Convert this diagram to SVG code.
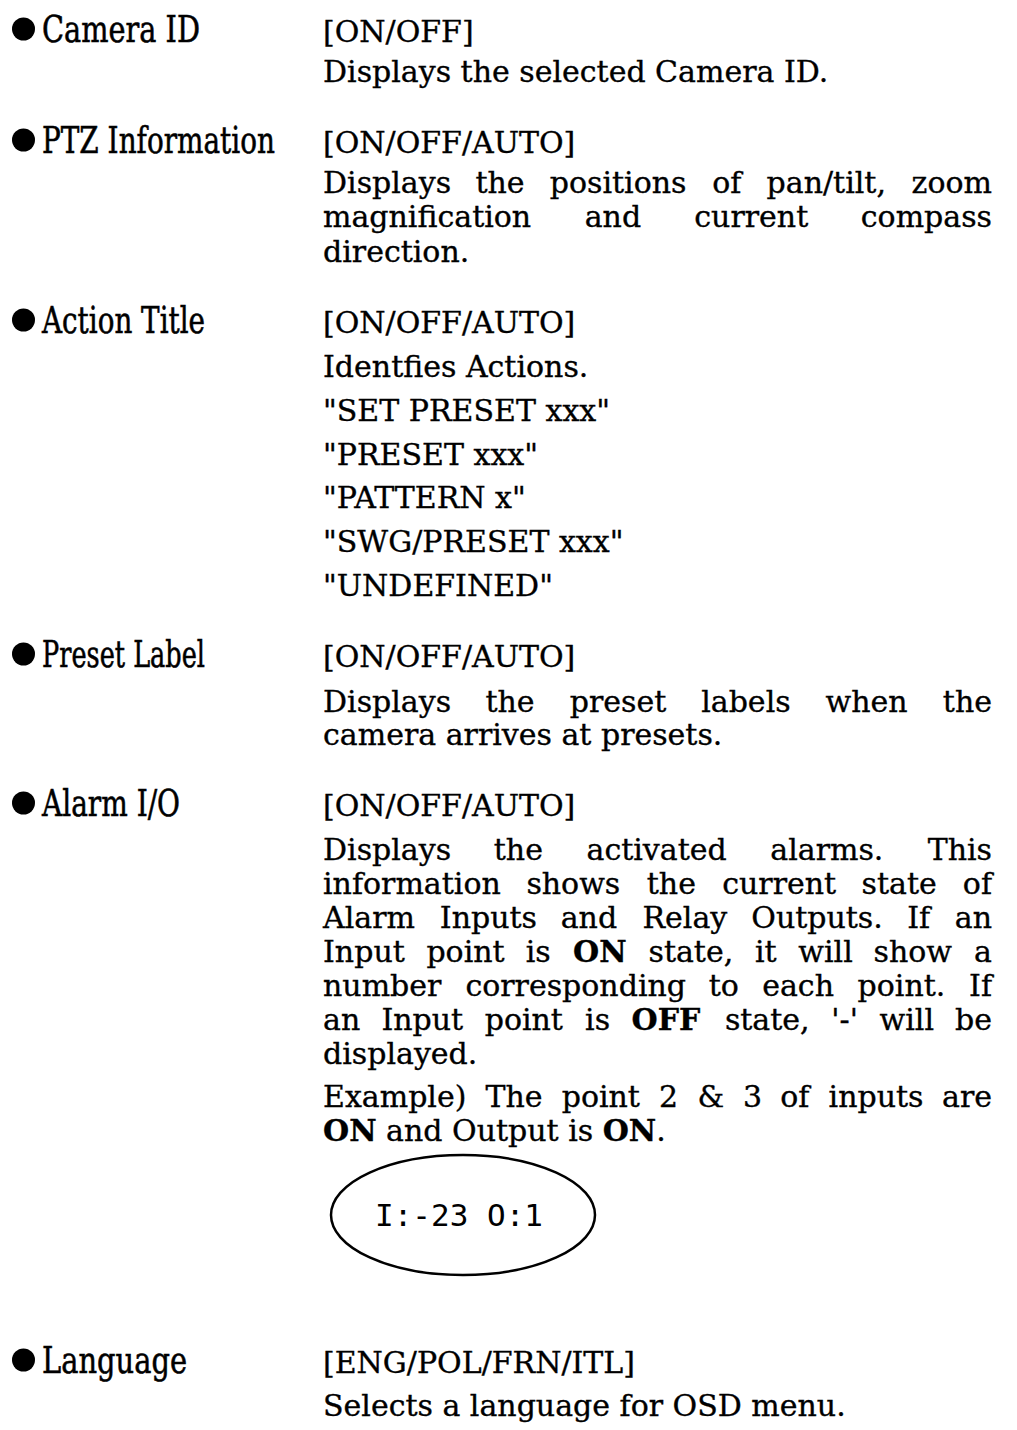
<svg xmlns="http://www.w3.org/2000/svg" width="1017" height="1430" viewBox="0 0 1017 1430">
<style>
.t{font-family:"DejaVu Serif","Liberation Serif",serif;font-size:30px;fill:#000;stroke:#000;stroke-width:0.35px}
.bd{font-weight:bold}
.lb{font-family:"DejaVu Serif","Liberation Serif",serif;font-size:38px;fill:#000;stroke:#000;stroke-width:0.6px}
.mo{font-family:"DejaVu Sans Mono","Liberation Mono",monospace;font-size:31px;fill:#000}
.e{text-anchor:end}
</style>
<rect width="1017" height="1430" fill="#fff"/>
<g id="connectors"/>
<g id="camera-id">
<circle cx="23.5" cy="29" r="11.5"/>
<text class="lb" transform="translate(42,42) scale(0.78,1)" x="0" y="0" textLength="202.6" lengthAdjust="spacingAndGlyphs">Camera ID</text>
<text class="t" x="323" y="42">[ON/OFF]</text>
<text class="t" x="323" y="82">Displays the selected Camera ID.</text>
</g>
<g id="ptz-information">
<circle cx="23.5" cy="140" r="11.5"/>
<text class="lb" transform="translate(42,153) scale(0.78,1)" x="0" y="0" textLength="298.7" lengthAdjust="spacingAndGlyphs">PTZ Information</text>
<text class="t" x="323" y="153">[ON/OFF/AUTO]</text>
<text class="t" y="193"><tspan x="323">Displays</tspan><tspan x="475.4">the</tspan><tspan x="549.8">positions</tspan><tspan x="712.2">of</tspan><tspan x="766.6">pan/tilt,</tspan></text>
<text class="t e" x="992" y="193">zoom</text>
<text class="t" y="227"><tspan x="323">magnification</tspan><tspan x="584.7">and</tspan><tspan x="694.3">current</tspan></text>
<text class="t e" x="992" y="227">compass</text>
<text class="t" x="323" y="262">direction.</text>
</g>
<g id="action-title">
<circle cx="23.5" cy="320" r="11.5"/>
<text class="lb" transform="translate(42,333) scale(0.78,1)" x="0" y="0" textLength="209" lengthAdjust="spacingAndGlyphs">Action Title</text>
<text class="t" x="323" y="333">[ON/OFF/AUTO]</text>
<text class="t" x="323" y="377">Identfies Actions.</text>
<text class="t" x="323" y="421">"SET PRESET xxx"</text>
<text class="t" x="323" y="465">"PRESET xxx"</text>
<text class="t" x="323" y="508">"PATTERN x"</text>
<text class="t" x="323" y="552">"SWG/PRESET xxx"</text>
<text class="t" x="323" y="596">"UNDEFINED"</text>
</g>
<g id="preset-label">
<circle cx="23.5" cy="654" r="11.5"/>
<text class="lb" transform="translate(42,667) scale(0.78,1)" x="0" y="0" textLength="209" lengthAdjust="spacingAndGlyphs">Preset Label</text>
<text class="t" x="323" y="667">[ON/OFF/AUTO]</text>
<text class="t" y="712"><tspan x="323">Displays</tspan><tspan x="485.4">the</tspan><tspan x="569.8">preset</tspan><tspan x="701.2">labels</tspan><tspan x="825.6">when</tspan></text>
<text class="t e" x="992" y="712">the</text>
<text class="t" x="323" y="745">camera arrives at presets.</text>
</g>
<g id="alarm-io">
<circle cx="23.5" cy="803" r="11.5"/>
<text class="lb" transform="translate(42,816) scale(0.78,1)" x="0" y="0" textLength="177" lengthAdjust="spacingAndGlyphs">Alarm I/O</text>
<text class="t" x="323" y="816">[ON/OFF/AUTO]</text>
<text class="t" y="860"><tspan x="323">Displays</tspan><tspan x="493.8">the</tspan><tspan x="586.5">activated</tspan><tspan x="770.3">alarms.</tspan></text>
<text class="t e" x="992" y="860">This</text>
<text class="t" y="894"><tspan x="323">information</tspan><tspan x="526.4">shows</tspan><tspan x="646.8">the</tspan><tspan x="722.2">current</tspan><tspan x="861.6">state</tspan></text>
<text class="t e" x="992" y="894">of</text>
<text class="t" y="928"><tspan x="323">Alarm</tspan><tspan x="439.8">Inputs</tspan><tspan x="560.7">and</tspan><tspan x="642.5">Relay</tspan><tspan x="751.3">Outputs.</tspan><tspan x="907.2">If</tspan></text>
<text class="t e" x="992" y="928">an</text>
<text class="t" y="962"><tspan x="323">Input</tspan><tspan x="426.4">point</tspan><tspan x="525.7">is</tspan><tspan x="573.1" class="bd">ON</tspan><tspan x="648.5">state,</tspan><tspan x="754.9">it</tspan><tspan x="798.3">will</tspan><tspan x="873.6">show</tspan></text>
<text class="t e" x="992" y="962">a</text>
<text class="t" y="996"><tspan x="323">number</tspan><tspan x="465.4">corresponding</tspan><tspan x="708.8">to</tspan><tspan x="762.2">each</tspan><tspan x="857.6">point.</tspan></text>
<text class="t e" x="992" y="996">If</text>
<text class="t" y="1030"><tspan x="323">an</tspan><tspan x="381.4">Input</tspan><tspan x="484.7">point</tspan><tspan x="585.1">is</tspan><tspan x="631.5" class="bd">OFF</tspan><tspan x="724.9">state,</tspan><tspan x="831.3">'-'</tspan><tspan x="879.6">will</tspan></text>
<text class="t e" x="992" y="1030">be</text>
<text class="t" x="323" y="1064">displayed.</text>
<text class="t" y="1107"><tspan x="323">Example)</tspan><tspan x="485.4">The</tspan><tspan x="561.7">point</tspan><tspan x="659.1">2</tspan><tspan x="697.5">&amp;</tspan><tspan x="742.9">3</tspan><tspan x="780.3">of</tspan><tspan x="828.6">inputs</tspan></text>
<text class="t e" x="992" y="1107">are</text>
<text class="t" x="323" y="1141"><tspan class="bd">ON</tspan> and Output is <tspan class="bd">ON</tspan>.</text>
</g>
<g id="osd-example">
<ellipse cx="463" cy="1215" rx="132" ry="60" fill="none" stroke="#000" stroke-width="2.5"/>
<text class="mo" x="459" y="1226" text-anchor="middle">I:-23 O:1</text>
</g>
<g id="language">
<circle cx="23.5" cy="1360" r="11.5"/>
<text class="lb" transform="translate(42,1373) scale(0.78,1)" x="0" y="0" textLength="186" lengthAdjust="spacingAndGlyphs">Language</text>
<text class="t" x="323" y="1373">[ENG/POL/FRN/ITL]</text>
<text class="t" x="323" y="1416">Selects a language for OSD menu.</text>
</g>
</svg>
